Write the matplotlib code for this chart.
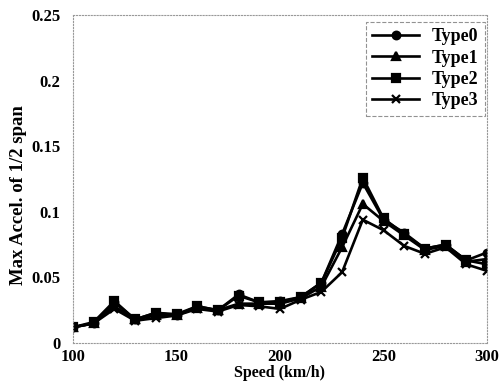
import numpy as np
import matplotlib.pyplot as plt

speed = [100, 110, 120, 130, 140, 150, 160, 170, 180, 190, 200,
         210, 220, 230, 240, 250, 260, 270, 280, 290, 300]
type0 = [0.012, 0.015, 0.031, 0.018, 0.023, 0.021, 0.028, 0.025, 0.037, 0.031, 0.032,
         0.035, 0.046, 0.083, 0.122, 0.094, 0.084, 0.072, 0.075, 0.063, 0.069]
type1 = [0.012, 0.015, 0.028, 0.018, 0.021, 0.021, 0.027, 0.025, 0.030, 0.030, 0.030,
         0.034, 0.043, 0.073, 0.106, 0.093, 0.082, 0.071, 0.074, 0.062, 0.064]
type2 = [0.012, 0.016, 0.032, 0.018, 0.023, 0.022, 0.028, 0.025, 0.036, 0.031, 0.031,
         0.035, 0.046, 0.080, 0.126, 0.095, 0.083, 0.072, 0.075, 0.063, 0.060]
type3 = [0.012, 0.015, 0.026, 0.017, 0.019, 0.021, 0.026, 0.024, 0.029, 0.028, 0.026,
         0.033, 0.039, 0.054, 0.094, 0.086, 0.074, 0.068, 0.073, 0.060, 0.055]
labels = ['Type0', 'Type1', 'Type2', 'Type3']
markers = ['o', '^', 's', 'x']

plt.rcParams['font.family'] = ['Liberation Serif', 'DejaVu Serif']
plt.rcParams['font.weight'] = 'bold'

fig = plt.figure(figsize=(5, 3.85), dpi=100)
ax = fig.add_axes([0.146, 0.109, 0.828, 0.852])

for y, lab, m in zip([type0, type1, type2, type3], labels, markers):
    ax.plot(speed, y, color='black', marker=m, markersize=5.5, linewidth=1.9,
            markeredgewidth=1.6, label=lab)

ax.set_xlim(100, 300)
ax.set_ylim(0, 0.25)
ax.set_xticks([100, 150, 200, 250, 300])
ax.set_yticks([0, 0.05, 0.1, 0.15, 0.2, 0.25])
ax.set_yticklabels(['0', '0.05', '0.1', '0.15', '0.2', '0.25'])
ax.tick_params(axis='both', length=0, labelsize=12)
ax.tick_params(axis='y', pad=9)
ax.tick_params(axis='x', pad=4)
for lab in ax.get_xticklabels() + ax.get_yticklabels():
    lab.set_fontweight('bold')

for s in ax.spines.values():
    s.set_linestyle(':')
    s.set_color('#999999')
    s.set_linewidth(0.8)

ax.set_xlabel('Speed (km/h)', fontsize=11.5, fontweight='bold', labelpad=0)
ax.set_ylabel('Max Accel. of 1/2 span', fontsize=13.5, fontweight='bold')
ax.yaxis.set_label_coords(-0.112, 0.45)

leg = ax.legend(loc='upper right', bbox_to_anchor=(0.995, 0.979),
                fontsize=13, frameon=True, fancybox=False,
                handlelength=2.6, handletextpad=0.7, borderpad=0.35,
                labelspacing=0.24, borderaxespad=0.0)
leg.get_frame().set_edgecolor('#777777')
leg.get_frame().set_linestyle('--')
leg.get_frame().set_linewidth(0.8)
for t in leg.get_texts():
    t.set_fontweight('bold')

fig.savefig('out.png', dpi=100)
